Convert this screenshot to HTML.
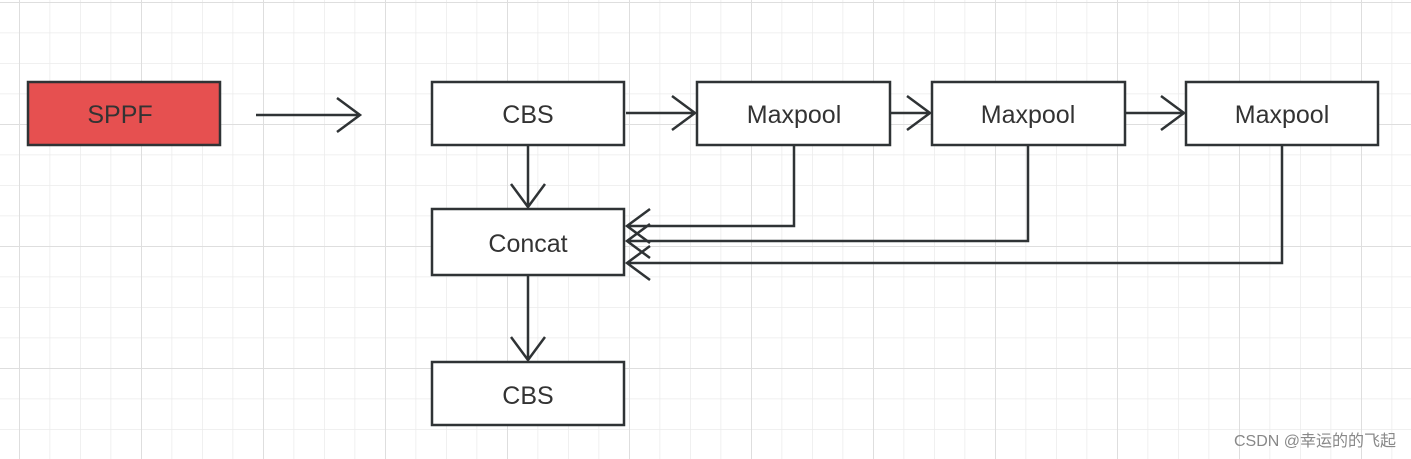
<!DOCTYPE html>
<html><head><meta charset="utf-8"><style>
html,body{margin:0;padding:0;background:#fff;}
svg{display:block}
text{font-family:"Liberation Sans","Noto Sans CJK SC",sans-serif;}
</style></head><body>
<svg width="1411" height="459" viewBox="0 0 1411 459">
<defs>
<pattern id="minor" x="19" y="2" width="30.5" height="30.5" patternUnits="userSpaceOnUse">
<path d="M0 0V30.5M0 0H30.5" stroke="#ebebeb" stroke-width="1.5" fill="none"/>
</pattern>
<pattern id="major" x="19" y="2" width="122" height="122" patternUnits="userSpaceOnUse">
<path d="M0 0V122M0 0H122" stroke="#dedede" stroke-width="2" fill="none"/>
</pattern>
</defs>
<rect width="1411" height="459" fill="url(#minor)"/>
<rect width="1411" height="459" fill="url(#major)"/>
<g stroke="#2f3335" stroke-width="2.5" fill="none">
<rect x="28" y="82" width="192" height="63" fill="#e65050"/>
<rect x="432" y="82" width="192" height="63" fill="#fff"/>
<rect x="697" y="82" width="193" height="63" fill="#fff"/>
<rect x="932" y="82" width="193" height="63" fill="#fff"/>
<rect x="1186" y="82" width="192" height="63" fill="#fff"/>
<rect x="432" y="209" width="192" height="66" fill="#fff"/>
<rect x="432" y="362" width="192" height="63" fill="#fff"/>
<path d="M256 115H360M337 98L360 115L337 132"/>
<path d="M626 113H695M672 96L695 113L672 130"/>
<path d="M891 113H930M907 96L930 113L907 130"/>
<path d="M1126 113H1184M1161 96L1184 113L1161 130"/>
<path d="M528 146V207M511 184L528 207L545 184"/>
<path d="M528 276V360M511 337L528 360L545 337"/>
<path d="M794 146V226H627M650 209L627 226L650 243"/>
<path d="M1028 146V241H627M650 224L627 241L650 258"/>
<path d="M1282 146V263H627M650 246L627 263L650 280"/>
</g>
<g fill="#333" font-size="25" text-anchor="middle">
<text x="120" y="123">SPPF</text>
<text x="528" y="123">CBS</text>
<text x="794" y="123">Maxpool</text>
<text x="1028" y="123">Maxpool</text>
<text x="1282" y="123">Maxpool</text>
<text x="528" y="252">Concat</text>
<text x="528" y="404">CBS</text>
</g>
<text x="1396" y="446" font-size="16" fill="#888" text-anchor="end">CSDN @幸运的的飞起</text>
</svg>
</body></html>
